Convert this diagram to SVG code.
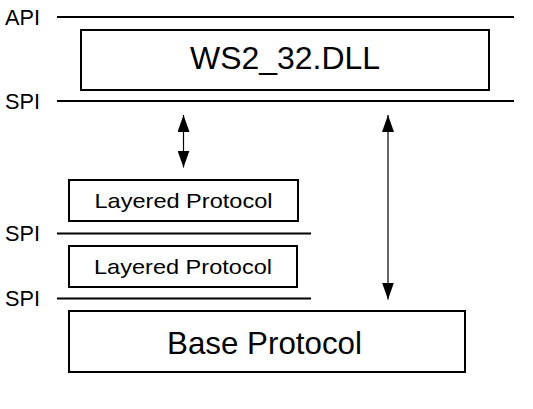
<svg xmlns="http://www.w3.org/2000/svg" width="533" height="409" viewBox="0 0 533 409">
<style>
  .bg { fill: #ffffff; }
  .box { fill: #ffffff; stroke: #000000; stroke-width: 2; }
  .iface { stroke: #000000; stroke-width: 2; fill: none; }
  .conn { stroke: #000000; stroke-width: 1.2; fill: none; }
  text { font-family: "Liberation Sans", Arial, sans-serif; fill: #000000; }
  .lbl { font-size: 21.5px; }
  .big { font-size: 32px; text-anchor: middle; }
  .mid { font-size: 21px; text-anchor: middle; }
</style>
<defs>
  <marker id="ah" markerUnits="userSpaceOnUse" viewBox="0 0 17 12" markerWidth="17" markerHeight="12" refX="17" refY="6" orient="auto-start-reverse">
    <path d="M0,0 L17,6 L0,12 Z" fill="#000000"/>
  </marker>
</defs>
<rect class="bg" x="0" y="0" width="533" height="409"/>
<g id="interfaces">
  <line class="iface" x1="57" y1="17" x2="514" y2="17"/>
  <text class="lbl" x="5" y="24.5" textLength="35" lengthAdjust="spacingAndGlyphs">API</text>
  <line class="iface" x1="57" y1="101" x2="514" y2="101"/>
  <text class="lbl" x="5" y="108.5" textLength="35" lengthAdjust="spacingAndGlyphs">SPI</text>
  <line class="iface" x1="57" y1="233.5" x2="311" y2="233.5"/>
  <text class="lbl" x="5" y="241" textLength="35" lengthAdjust="spacingAndGlyphs">SPI</text>
  <line class="iface" x1="57" y1="298.5" x2="311" y2="298.5"/>
  <text class="lbl" x="5" y="306" textLength="35" lengthAdjust="spacingAndGlyphs">SPI</text>
</g>
<g id="ws2_32">
  <rect class="box" x="81" y="30" width="408" height="60"/>
  <text class="big" x="285" y="68.5" textLength="190" lengthAdjust="spacingAndGlyphs">WS2_32.DLL</text>
</g>
<g id="layered1">
  <rect class="box" x="69" y="180" width="229" height="41"/>
  <text class="mid" x="183.5" y="208" textLength="178" lengthAdjust="spacingAndGlyphs">Layered Protocol</text>
</g>
<g id="layered2">
  <rect class="box" x="69" y="246" width="228" height="41"/>
  <text class="mid" x="183" y="274" textLength="178" lengthAdjust="spacingAndGlyphs">Layered Protocol</text>
</g>
<g id="base">
  <rect class="box" x="69" y="311" width="396" height="61"/>
  <text class="big" x="264.5" y="353.5" textLength="195" lengthAdjust="spacingAndGlyphs">Base Protocol</text>
</g>
<g id="connectors">
  <line class="conn" x1="183.5" y1="115" x2="183.5" y2="167.5" marker-start="url(#ah)" marker-end="url(#ah)"/>
  <line class="conn" x1="388" y1="115" x2="388" y2="299.5" marker-start="url(#ah)" marker-end="url(#ah)"/>
</g>
</svg>
